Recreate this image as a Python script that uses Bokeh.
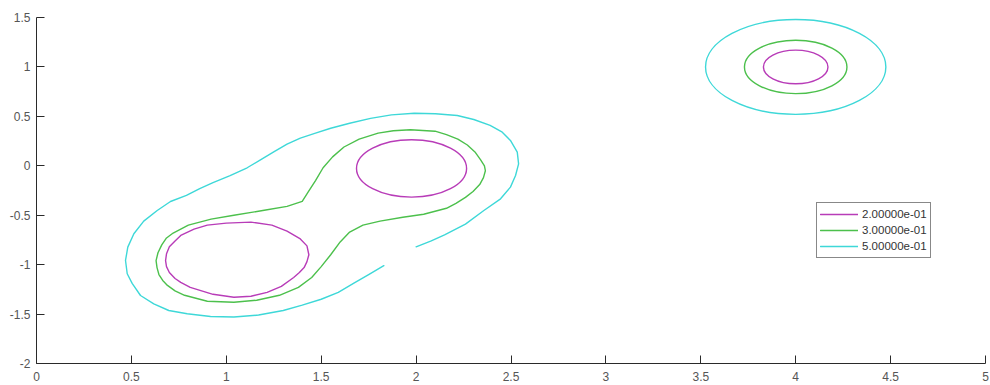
from bokeh.plotting import figure
from bokeh.models import Range1d, FixedTicker, Legend, LegendItem
from bokeh.embed import file_html
from bokeh.resources import INLINE

# contour levels and their colours
levels = ["2.00000e-01", "3.00000e-01", "5.00000e-01"]
level_colors = ["#b83cb8", "#4cc04c", "#3ed8d8"]

# axis ticks
x_ticks = [0, 0.5, 1, 1.5, 2, 2.5, 3, 3.5, 4, 4.5, 5]
x_tick_labels = ["0", "0.5", "1", "1.5", "2", "2.5", "3", "3.5", "4", "4.5", "5"]
y_ticks = [-2, -1.5, -1, -0.5, 0, 0.5, 1, 1.5]
y_tick_labels = ["-2", "-1.5", "-1", "-0.5", "0", "0.5", "1", "1.5"]

# level 0.2 around the lower-left peak
low_02_x = [0.68, 0.685, 0.70, 0.73, 0.76, 0.83, 0.90, 1.00, 1.13, 1.24, 1.32, 1.39, 1.425, 1.435,
            1.425, 1.41, 1.385, 1.355, 1.29, 1.215, 1.13, 1.04, 0.93, 0.81, 0.76, 0.73, 0.70, 0.685, 0.68]
low_02_y = [-0.96, -0.89, -0.82, -0.76, -0.705, -0.64, -0.60, -0.58, -0.57, -0.60, -0.66, -0.74, -0.81, -0.90,
            -0.97, -1.03, -1.08, -1.13, -1.22, -1.28, -1.32, -1.33, -1.30, -1.23, -1.18, -1.14, -1.08, -1.02, -0.96]

# level 0.2 around the middle peak and the far peak (centre x, centre y, width, height)
ring_02_cx = [1.976, 4.0]
ring_02_cy = [-0.027, 1.0]
ring_02_w = [0.58, 0.34]
ring_02_h = [0.58, 0.34]

# level 0.3 enclosing the two left peaks
band_03_x = [0.63, 0.64, 0.66, 0.685, 0.72, 0.80, 0.92, 1.04, 1.20, 1.32, 1.40, 1.43, 1.47, 1.51, 1.56,
             1.62, 1.70, 1.80, 1.88, 1.97, 2.10, 2.16, 2.22, 2.27, 2.31, 2.34, 2.36, 2.365, 2.355, 2.335,
             2.30, 2.26, 2.21, 2.16, 2.04, 1.93, 1.81, 1.72, 1.65, 1.60, 1.55, 1.50, 1.45, 1.38, 1.28,
             1.16, 1.04, 0.90, 0.78, 0.73, 0.69, 0.665, 0.645, 0.635, 0.63]
band_03_y = [-0.96, -0.88, -0.80, -0.73, -0.68, -0.60, -0.54, -0.50, -0.45, -0.41, -0.36, -0.27, -0.15, -0.02, 0.09,
             0.19, 0.27, 0.33, 0.355, 0.365, 0.35, 0.315, 0.27, 0.21, 0.14, 0.06, -0.0, -0.05, -0.12, -0.19,
             -0.26, -0.32, -0.38, -0.43, -0.49, -0.52, -0.56, -0.60, -0.67, -0.77, -0.90, -1.02, -1.13, -1.23, -1.31,
             -1.36, -1.38, -1.37, -1.31, -1.265, -1.21, -1.16, -1.10, -1.03, -0.96]

# level 0.3 around the far peak
ring_03_cx = [4.0]
ring_03_cy = [1.0]
ring_03_w = [0.54]
ring_03_h = [0.54]

# level 0.5 enclosing the two left peaks (open between its two ends)
band_05_x = [2.00, 2.08, 2.15, 2.26, 2.357, 2.445, 2.497, 2.524, 2.54, 2.533, 2.497, 2.454, 2.39,
             2.304, 2.217, 2.102, 1.99, 1.87, 1.76, 1.65, 1.55, 1.47, 1.39, 1.32, 1.25, 1.18, 1.11,
             1.02, 0.93, 0.86, 0.79, 0.706, 0.636, 0.565, 0.513, 0.481, 0.469, 0.478, 0.504, 0.548,
             0.618, 0.697, 0.794, 0.917, 1.04, 1.17, 1.30, 1.40, 1.50, 1.59, 1.67, 1.75, 1.83]
band_05_y = [-0.82, -0.76, -0.70, -0.59, -0.452, -0.334, -0.216, -0.098, 0.02, 0.138, 0.256, 0.340, 0.408,
             0.468, 0.509, 0.526, 0.532, 0.515, 0.48, 0.43, 0.38, 0.33, 0.28, 0.22, 0.14, 0.06, -0.02,
             -0.10, -0.17, -0.23, -0.30, -0.361, -0.452, -0.56, -0.688, -0.823, -0.958, -1.092, -1.19, -1.312,
             -1.396, -1.464, -1.497, -1.524, -1.53, -1.51, -1.464, -1.41, -1.35, -1.28, -1.19, -1.10, -1.01]

# level 0.5 around the far peak
ring_05_cx = [4.0]
ring_05_cy = [1.0]
ring_05_w = [0.95]
ring_05_h = [0.96]

LW = 1.4

p = figure(width=990, height=385, output_backend="svg", toolbar_location=None,
           x_range=Range1d(0, 5), y_range=Range1d(-2, 1.5),
           min_border_left=36, min_border_right=5, min_border_top=17, min_border_bottom=22)
p.outline_line_color = None
p.grid.visible = False
p.background_fill_color = "white"
p.border_fill_color = "white"

line_style = dict(line_width=LW, line_join="round", line_cap="round")

# level 0.2
r02a = p.line(low_02_x, low_02_y, line_color=level_colors[0], **line_style)
p.ellipse(x=ring_02_cx, y=ring_02_cy, width=ring_02_w, height=ring_02_h,
          fill_color=None, line_color=level_colors[0], line_width=LW)
# level 0.3
r03a = p.line(band_03_x, band_03_y, line_color=level_colors[1], **line_style)
p.ellipse(x=ring_03_cx, y=ring_03_cy, width=ring_03_w, height=ring_03_h,
          fill_color=None, line_color=level_colors[1], line_width=LW)
# level 0.5
r05a = p.line(band_05_x, band_05_y, line_color=level_colors[2], **line_style)
p.ellipse(x=ring_05_cx, y=ring_05_cy, width=ring_05_w, height=ring_05_h,
          fill_color=None, line_color=level_colors[2], line_width=LW)

for ax, ticks, labels in ((p.xaxis, x_ticks, x_tick_labels), (p.yaxis, y_ticks, y_tick_labels)):
    ax.ticker = FixedTicker(ticks=ticks)
    ax.major_label_overrides = {float(t): s for t, s in zip(ticks, labels)}
    ax.minor_tick_line_color = None
    ax.major_tick_in = 8
    ax.major_tick_out = 0
    ax.axis_line_color = "#2a2a2a"
    ax.major_tick_line_color = "#2a2a2a"
    ax.axis_line_width = 1
    ax.major_label_text_font = "Liberation Sans"
    ax.major_label_text_font_size = "12px"
    ax.major_label_text_color = "#555555"
p.xaxis.major_label_standoff = 8
p.yaxis.major_label_standoff = 6

legend = Legend(items=[
    LegendItem(label=levels[0], renderers=[r02a]),
    LegendItem(label=levels[1], renderers=[r03a]),
    LegendItem(label=levels[2], renderers=[r05a]),
], location=(780, 105))
legend.border_line_color = "#111111"
legend.border_line_width = 1
legend.background_fill_color = "white"
legend.background_fill_alpha = 1
legend.padding = 3
legend.spacing = 0
legend.margin = 0
legend.glyph_width = 38
legend.glyph_height = 16
legend.label_height = 16
legend.label_standoff = 4
legend.label_text_font = "Liberation Sans"
legend.label_text_font_size = "11.5px"
legend.label_text_color = "#333333"
p.add_layout(legend)

open("out.html", "w").write(file_html(p, INLINE))
